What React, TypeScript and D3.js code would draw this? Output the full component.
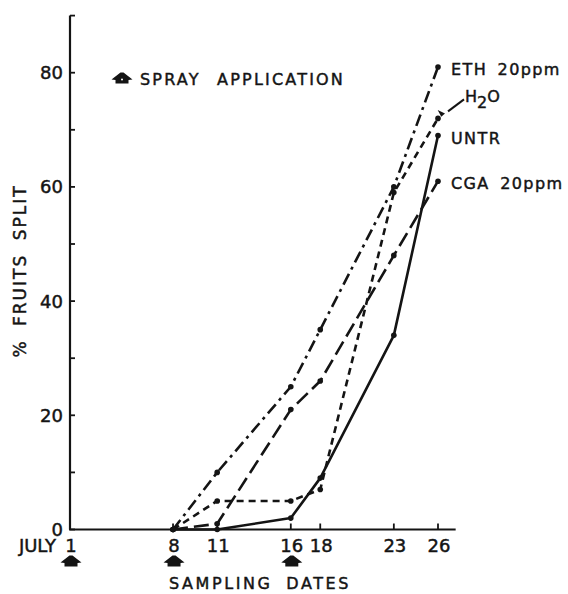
import * as d3 from 'd3';
import { useEffect, useRef } from 'react';

// sampling dates (July) and % fruits split per treatment
const sampleDays = [8, 11, 16, 18, 23, 26];
const ethValues = [0, 10, 25, 35, 60, 81];
const h2oValues = [0, 5, 5, 7, 59, 72];
const untrValues = [0, 0, 2, 9, 34, 69];
const cgaValues = [0, 1, 21, 26, 48, 61];

const xTickDays = [1, 8, 11, 16, 18, 23, 26];
const sprayDays = [1, 8, 16];
const yLabelTicks = [0, 20, 40, 60, 80];
const yMinorTicks = [0, 10, 20, 30, 40, 50, 60, 70, 80, 90];

const FONT = "'DejaVu Sans', sans-serif";
const INK = '#141414';

// the "spray" arrow glyph
const sprayPath = 'M-1.5,-6.5 L1.5,-6.5 L10.5,0.5 L6.5,1 L6.5,4.5 L-6.5,4.5 L-6.5,1 L-10.5,0.5 Z';

export default function App() {
    const ref = useRef(null);

    useEffect(() => {
        const svg = d3.select(ref.current);
        svg.selectAll('*').remove();

        const x = d3.scaleLinear().domain([1, 26]).range([70, 438]);
        const y = d3.scaleLinear().domain([0, 90]).range([529.5, 15.6]);

        const g = svg.append('g');

        const txt = (sel, size) => sel
            .attr('font-family', FONT)
            .attr('font-size', size)
            .attr('fill', INK)
            .attr('stroke', INK)
            .attr('stroke-width', 0.45);

        // axes
        g.append('line')
            .attr('x1', x(1)).attr('x2', x(1))
            .attr('y1', y(0)).attr('y2', y(90))
            .attr('stroke', INK).attr('stroke-width', 2.2);
        g.append('line')
            .attr('x1', x(1) - 1).attr('x2', x(27.2))
            .attr('y1', y(0)).attr('y2', y(0))
            .attr('stroke', INK).attr('stroke-width', 2.2);

        g.selectAll('.ytick')
            .data(yMinorTicks)
            .enter()
            .append('line')
            .attr('x1', x(1)).attr('x2', x(1) + 5)
            .attr('y1', d => y(d)).attr('y2', d => y(d))
            .attr('stroke', INK).attr('stroke-width', 1.8);

        txt(g.selectAll('.ylab')
            .data(yLabelTicks)
            .enter()
            .append('text')
            .attr('x', 63)
            .attr('y', d => y(d) + 6.5)
            .attr('text-anchor', 'end'), 18)
            .text(d => d);

        g.selectAll('.xtick')
            .data(xTickDays.slice(1))
            .enter()
            .append('line')
            .attr('x1', d => x(d)).attr('x2', d => x(d))
            .attr('y1', y(0)).attr('y2', y(0) - 6)
            .attr('stroke', INK).attr('stroke-width', 1.8);

        txt(g.selectAll('.xlab')
            .data(xTickDays)
            .enter()
            .append('text')
            .attr('x', d => x(d) + 1)
            .attr('y', 552)
            .attr('text-anchor', 'middle'), 18)
            .text(d => d);

        txt(g.append('text')
            .attr('x', 56).attr('y', 552)
            .attr('text-anchor', 'end'), 18)
            .text('JULY');

        // spray markers under the axis
        g.selectAll('.spray')
            .data(sprayDays)
            .enter()
            .append('path')
            .attr('d', sprayPath)
            .attr('transform', d => 'translate(' + (x(d) + 1) + ',562)')
            .attr('fill', INK);

        txt(g.append('text')
            .attr('x', 260).attr('y', 589)
            .attr('text-anchor', 'middle')
            .attr('letter-spacing', 2.6).attr('word-spacing', 6), 16)
            .text('SAMPLING DATES');

        txt(g.append('text')
            .attr('transform', 'translate(26,271) rotate(-90)')
            .attr('text-anchor', 'middle')
            .attr('letter-spacing', 2).attr('word-spacing', 6), 17)
            .text('% FRUITS SPLIT');

        // legend for the spray symbol
        g.append('path')
            .attr('d', sprayPath)
            .attr('transform', 'translate(122,79)')
            .attr('fill', INK);
        g.append('circle')
            .attr('cx', 122).attr('cy', 79.5).attr('r', 1)
            .attr('fill', '#fff');
        txt(g.append('text')
            .attr('x', 140).attr('y', 85)
            .attr('letter-spacing', 2.2).attr('word-spacing', 9), 16)
            .text('SPRAY APPLICATION');

        // treatment lines
        const series = [
            { name: 'ETH', values: ethValues, dash: '12 5 3 5' },
            { name: 'H2O', values: h2oValues, dash: '7 5' },
            { name: 'UNTR', values: untrValues, dash: null },
            { name: 'CGA', values: cgaValues, dash: '15 6' }
        ];

        const line = d3.line()
            .x(d => x(d[0]))
            .y(d => y(d[1]));

        series.forEach(s => {
            const pts = sampleDays.map((d, i) => [d, s.values[i]]);
            g.append('path')
                .attr('d', line(pts))
                .attr('fill', 'none')
                .attr('stroke', INK)
                .attr('stroke-width', 2.6)
                .attr('stroke-dasharray', s.dash)
                .attr('stroke-linejoin', 'round');
            g.selectAll('.dot-' + s.name)
                .data(pts)
                .enter()
                .append('circle')
                .attr('cx', d => x(d[0]))
                .attr('cy', d => y(d[1]))
                .attr('r', 2.8)
                .attr('fill', INK);
        });

        // end labels
        const lx = x(26) + 13;
        const label = (t, yy) => txt(g.append('text')
            .attr('x', lx).attr('y', yy)
            .attr('letter-spacing', 1.4).attr('word-spacing', 4), 16)
            .text(t);

        label('ETH 20ppm', y(81) + 8);
        label('UNTR', y(69) + 8);
        label('CGA 20ppm', y(61) + 8);

        const h2o = txt(g.append('text')
            .attr('x', lx + 14).attr('y', y(72) - 16), 16);
        h2o.append('tspan').text('H');
        h2o.append('tspan').attr('dy', 6).text('2');
        h2o.append('tspan').attr('dy', -6).text('O');

        // leader arrow from H2O label to its point
        g.append('line')
            .attr('x1', lx + 13).attr('y1', y(72) - 19)
            .attr('x2', x(26) + 10).attr('y2', y(72) - 7)
            .attr('stroke', INK).attr('stroke-width', 2);
        g.append('path')
            .attr('d', 'M0,0 L-7,-4 L-4,3 Z')
            .attr('transform', 'translate(' + (x(26) + 7) + ',' + (y(72) - 5) + ') rotate(-5)')
            .attr('fill', INK);
    }, []);

    return (
        <svg
            ref={ref}
            width={568}
            height={594}
            style={{ position: 'absolute', left: 0, top: 0, background: '#fff' }}
        />
    );
}
